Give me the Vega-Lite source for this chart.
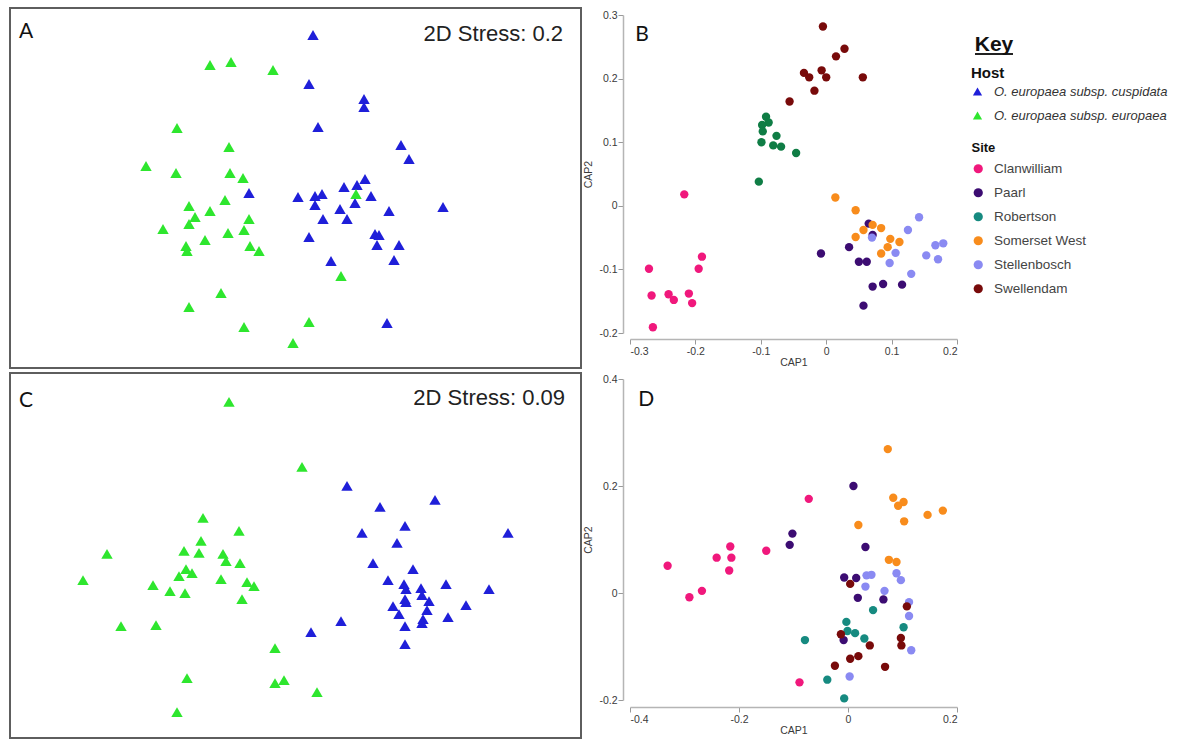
{
"$schema": "https://vega.github.io/schema/vega-lite/v6.json",
"padding": {"left": 9, "top": 7, "right": 0, "bottom": 0},
"autosize": {"type": "pad"},
"background": "white",
"bounds": "flush",
"columns": 3,
"spacing": {"row": 5, "column": 49},
"config": {
  "view": {"stroke": null},
  "font": "Liberation Sans",
  "locale": {"number": {"decimal": ".", "thousands": ",", "grouping": [3], "currency": ["$", ""], "minus": "-"}},
  "axis": {"grid": false, "domainColor": "#b5b5b5", "domainWidth": 1.5, "tickColor": "#999", "tickSize": 5, "labelFontSize": 10.5, "labelColor": "#3a3a3a", "titleFontSize": 10.5, "titleFontWeight": "normal", "titleColor": "#3a3a3a", "labelFont": "Liberation Sans", "titleFont": "Liberation Sans"}
},
"datasets": {
  "nmdsA": [
    {"nmds1":-0.23,"nmds2":-0.025,"host":"cuspidata"},{"nmds1":0.015,"nmds2":-0.045,"host":"cuspidata"},{"nmds1":0.09,"nmds2":0.765,"host":"cuspidata"},{"nmds1":0.07,"nmds2":0.52,"host":"cuspidata"},{"nmds1":0.345,"nmds2":0.445,"host":"cuspidata"},{"nmds1":0.345,"nmds2":0.405,"host":"cuspidata"},{"nmds1":0.115,"nmds2":0.305,"host":"cuspidata"},{"nmds1":0.53,"nmds2":0.215,"host":"cuspidata"},{"nmds1":0.57,"nmds2":0.145,"host":"cuspidata"},{"nmds1":0.35,"nmds2":0.045,"host":"cuspidata"},{"nmds1":0.245,"nmds2":0.005,"host":"cuspidata"},{"nmds1":0.31,"nmds2":0.015,"host":"cuspidata"},{"nmds1":0.1,"nmds2":-0.04,"host":"cuspidata"},{"nmds1":0.135,"nmds2":-0.03,"host":"cuspidata"},{"nmds1":0.38,"nmds2":-0.04,"host":"cuspidata"},{"nmds1":0.1,"nmds2":-0.085,"host":"cuspidata"},{"nmds1":0.225,"nmds2":-0.105,"host":"cuspidata"},{"nmds1":0.3,"nmds2":-0.075,"host":"cuspidata"},{"nmds1":0.47,"nmds2":-0.115,"host":"cuspidata"},{"nmds1":0.74,"nmds2":-0.095,"host":"cuspidata"},{"nmds1":0.14,"nmds2":-0.155,"host":"cuspidata"},{"nmds1":0.26,"nmds2":-0.155,"host":"cuspidata"},{"nmds1":0.4,"nmds2":-0.23,"host":"cuspidata"},{"nmds1":0.42,"nmds2":-0.235,"host":"cuspidata"},{"nmds1":0.41,"nmds2":-0.285,"host":"cuspidata"},{"nmds1":0.52,"nmds2":-0.285,"host":"cuspidata"},{"nmds1":0.07,"nmds2":-0.245,"host":"cuspidata"},{"nmds1":0.18,"nmds2":-0.365,"host":"cuspidata"},{"nmds1":0.495,"nmds2":-0.36,"host":"cuspidata"},{"nmds1":0.46,"nmds2":-0.675,"host":"cuspidata"},
    {"nmds1":-0.425,"nmds2":0.615,"host":"europaea"},{"nmds1":-0.32,"nmds2":0.63,"host":"europaea"},{"nmds1":-0.11,"nmds2":0.59,"host":"europaea"},{"nmds1":-0.59,"nmds2":0.3,"host":"europaea"},{"nmds1":-0.33,"nmds2":0.205,"host":"europaea"},{"nmds1":-0.745,"nmds2":0.11,"host":"europaea"},{"nmds1":-0.595,"nmds2":0.075,"host":"europaea"},{"nmds1":-0.325,"nmds2":0.075,"host":"europaea"},{"nmds1":-0.26,"nmds2":0.05,"host":"europaea"},{"nmds1":-0.35,"nmds2":-0.06,"host":"europaea"},{"nmds1":-0.53,"nmds2":-0.09,"host":"europaea"},{"nmds1":-0.425,"nmds2":-0.115,"host":"europaea"},{"nmds1":-0.5,"nmds2":-0.145,"host":"europaea"},{"nmds1":-0.53,"nmds2":-0.18,"host":"europaea"},{"nmds1":-0.66,"nmds2":-0.205,"host":"europaea"},{"nmds1":-0.23,"nmds2":-0.155,"host":"europaea"},{"nmds1":-0.335,"nmds2":-0.225,"host":"europaea"},{"nmds1":-0.255,"nmds2":-0.21,"host":"europaea"},{"nmds1":-0.45,"nmds2":-0.26,"host":"europaea"},{"nmds1":-0.545,"nmds2":-0.29,"host":"europaea"},{"nmds1":-0.54,"nmds2":-0.315,"host":"europaea"},{"nmds1":-0.225,"nmds2":-0.29,"host":"europaea"},{"nmds1":-0.18,"nmds2":-0.315,"host":"europaea"},{"nmds1":-0.37,"nmds2":-0.525,"host":"europaea"},{"nmds1":-0.53,"nmds2":-0.595,"host":"europaea"},{"nmds1":-0.255,"nmds2":-0.695,"host":"europaea"},{"nmds1":-0.01,"nmds2":-0.775,"host":"europaea"},{"nmds1":0.305,"nmds2":-0.03,"host":"europaea"},{"nmds1":0.23,"nmds2":-0.44,"host":"europaea"},{"nmds1":0.07,"nmds2":-0.67,"host":"europaea"}
  ],
  "nmdsC": [
    {"nmds1":0.26,"nmds2":0.348,"host":"cuspidata"},{"nmds1":0.7,"nmds2":0.278,"host":"cuspidata"},{"nmds1":0.425,"nmds2":0.243,"host":"cuspidata"},{"nmds1":0.55,"nmds2":0.148,"host":"cuspidata"},{"nmds1":0.335,"nmds2":0.113,"host":"cuspidata"},{"nmds1":1.065,"nmds2":0.113,"host":"cuspidata"},{"nmds1":0.51,"nmds2":0.063,"host":"cuspidata"},{"nmds1":0.39,"nmds2":-0.038,"host":"cuspidata"},{"nmds1":0.59,"nmds2":-0.068,"host":"cuspidata"},{"nmds1":0.465,"nmds2":-0.123,"host":"cuspidata"},{"nmds1":0.545,"nmds2":-0.143,"host":"cuspidata"},{"nmds1":0.555,"nmds2":-0.168,"host":"cuspidata"},{"nmds1":0.63,"nmds2":-0.163,"host":"cuspidata"},{"nmds1":0.755,"nmds2":-0.143,"host":"cuspidata"},{"nmds1":0.97,"nmds2":-0.168,"host":"cuspidata"},{"nmds1":0.635,"nmds2":-0.198,"host":"cuspidata"},{"nmds1":0.55,"nmds2":-0.218,"host":"cuspidata"},{"nmds1":0.555,"nmds2":-0.233,"host":"cuspidata"},{"nmds1":0.67,"nmds2":-0.228,"host":"cuspidata"},{"nmds1":0.49,"nmds2":-0.253,"host":"cuspidata"},{"nmds1":0.855,"nmds2":-0.248,"host":"cuspidata"},{"nmds1":0.52,"nmds2":-0.293,"host":"cuspidata"},{"nmds1":0.66,"nmds2":-0.273,"host":"cuspidata"},{"nmds1":0.765,"nmds2":-0.308,"host":"cuspidata"},{"nmds1":0.64,"nmds2":-0.318,"host":"cuspidata"},{"nmds1":0.635,"nmds2":-0.338,"host":"cuspidata"},{"nmds1":0.55,"nmds2":-0.353,"host":"cuspidata"},{"nmds1":0.23,"nmds2":-0.328,"host":"cuspidata"},{"nmds1":0.08,"nmds2":-0.383,"host":"cuspidata"},{"nmds1":0.55,"nmds2":-0.443,"host":"cuspidata"},
    {"nmds1":-0.33,"nmds2":0.768,"host":"europaea"},{"nmds1":0.035,"nmds2":0.443,"host":"europaea"},{"nmds1":-0.46,"nmds2":0.188,"host":"europaea"},{"nmds1":-0.28,"nmds2":0.123,"host":"europaea"},{"nmds1":-0.47,"nmds2":0.073,"host":"europaea"},{"nmds1":-0.555,"nmds2":0.023,"host":"europaea"},{"nmds1":-0.48,"nmds2":0.013,"host":"europaea"},{"nmds1":-0.94,"nmds2":0.008,"host":"europaea"},{"nmds1":-0.36,"nmds2":0.008,"host":"europaea"},{"nmds1":-0.345,"nmds2":-0.028,"host":"europaea"},{"nmds1":-0.275,"nmds2":-0.038,"host":"europaea"},{"nmds1":-0.545,"nmds2":-0.068,"host":"europaea"},{"nmds1":-0.58,"nmds2":-0.103,"host":"europaea"},{"nmds1":-0.515,"nmds2":-0.088,"host":"europaea"},{"nmds1":-1.06,"nmds2":-0.123,"host":"europaea"},{"nmds1":-0.71,"nmds2":-0.148,"host":"europaea"},{"nmds1":-0.37,"nmds2":-0.118,"host":"europaea"},{"nmds1":-0.24,"nmds2":-0.133,"host":"europaea"},{"nmds1":-0.205,"nmds2":-0.153,"host":"europaea"},{"nmds1":-0.625,"nmds2":-0.178,"host":"europaea"},{"nmds1":-0.55,"nmds2":-0.188,"host":"europaea"},{"nmds1":-0.265,"nmds2":-0.218,"host":"europaea"},{"nmds1":-0.87,"nmds2":-0.353,"host":"europaea"},{"nmds1":-0.695,"nmds2":-0.348,"host":"europaea"},{"nmds1":-0.1,"nmds2":-0.463,"host":"europaea"},{"nmds1":-0.54,"nmds2":-0.613,"host":"europaea"},{"nmds1":-0.1,"nmds2":-0.638,"host":"europaea"},{"nmds1":-0.055,"nmds2":-0.623,"host":"europaea"},{"nmds1":-0.59,"nmds2":-0.783,"host":"europaea"},{"nmds1":0.11,"nmds2":-0.683,"host":"europaea"}
  ],
  "capB": [
    {"cap1":-0.217,"cap2":0.018,"site":"Clanwilliam"},{"cap1":-0.19,"cap2":-0.08,"site":"Clanwilliam"},{"cap1":-0.195,"cap2":-0.099,"site":"Clanwilliam"},{"cap1":-0.271,"cap2":-0.099,"site":"Clanwilliam"},{"cap1":-0.267,"cap2":-0.141,"site":"Clanwilliam"},{"cap1":-0.241,"cap2":-0.139,"site":"Clanwilliam"},{"cap1":-0.233,"cap2":-0.148,"site":"Clanwilliam"},{"cap1":-0.21,"cap2":-0.138,"site":"Clanwilliam"},{"cap1":-0.205,"cap2":-0.153,"site":"Clanwilliam"},{"cap1":-0.265,"cap2":-0.191,"site":"Clanwilliam"},
    {"cap1":0.065,"cap2":-0.028,"site":"Paarl"},{"cap1":0.071,"cap2":-0.046,"site":"Paarl"},{"cap1":0.035,"cap2":-0.065,"site":"Paarl"},{"cap1":-0.008,"cap2":-0.075,"site":"Paarl"},{"cap1":0.05,"cap2":-0.088,"site":"Paarl"},{"cap1":0.062,"cap2":-0.088,"site":"Paarl"},{"cap1":0.071,"cap2":-0.127,"site":"Paarl"},{"cap1":0.087,"cap2":-0.123,"site":"Paarl"},{"cap1":0.116,"cap2":-0.124,"site":"Paarl"},{"cap1":0.057,"cap2":-0.157,"site":"Paarl"},
    {"cap1":-0.092,"cap2":0.14,"site":"Robertson"},{"cap1":-0.088,"cap2":0.131,"site":"Robertson"},{"cap1":-0.098,"cap2":0.127,"site":"Robertson"},{"cap1":-0.097,"cap2":0.117,"site":"Robertson"},{"cap1":-0.076,"cap2":0.11,"site":"Robertson"},{"cap1":-0.099,"cap2":0.1,"site":"Robertson"},{"cap1":-0.081,"cap2":0.095,"site":"Robertson"},{"cap1":-0.069,"cap2":0.093,"site":"Robertson"},{"cap1":-0.046,"cap2":0.083,"site":"Robertson"},{"cap1":-0.103,"cap2":0.038,"site":"Robertson"},
    {"cap1":0.014,"cap2":0.013,"site":"Somerset West"},{"cap1":0.045,"cap2":-0.007,"site":"Somerset West"},{"cap1":0.057,"cap2":-0.038,"site":"Somerset West"},{"cap1":0.045,"cap2":-0.049,"site":"Somerset West"},{"cap1":0.071,"cap2":-0.03,"site":"Somerset West"},{"cap1":0.084,"cap2":-0.035,"site":"Somerset West"},{"cap1":0.098,"cap2":-0.052,"site":"Somerset West"},{"cap1":0.112,"cap2":-0.057,"site":"Somerset West"},{"cap1":0.094,"cap2":-0.065,"site":"Somerset West"},{"cap1":0.084,"cap2":-0.075,"site":"Somerset West"},
    {"cap1":0.142,"cap2":-0.018,"site":"Stellenbosch"},{"cap1":0.125,"cap2":-0.038,"site":"Stellenbosch"},{"cap1":0.07,"cap2":-0.05,"site":"Stellenbosch"},{"cap1":0.167,"cap2":-0.062,"site":"Stellenbosch"},{"cap1":0.179,"cap2":-0.059,"site":"Stellenbosch"},{"cap1":0.106,"cap2":-0.074,"site":"Stellenbosch"},{"cap1":0.153,"cap2":-0.078,"site":"Stellenbosch"},{"cap1":0.171,"cap2":-0.084,"site":"Stellenbosch"},{"cap1":0.097,"cap2":-0.09,"site":"Stellenbosch"},{"cap1":0.13,"cap2":-0.107,"site":"Stellenbosch"},
    {"cap1":-0.005,"cap2":0.282,"site":"Swellendam"},{"cap1":0.028,"cap2":0.247,"site":"Swellendam"},{"cap1":0.015,"cap2":0.235,"site":"Swellendam"},{"cap1":-0.034,"cap2":0.209,"site":"Swellendam"},{"cap1":-0.026,"cap2":0.202,"site":"Swellendam"},{"cap1":-0.007,"cap2":0.213,"site":"Swellendam"},{"cap1":0.0,"cap2":0.202,"site":"Swellendam"},{"cap1":0.056,"cap2":0.202,"site":"Swellendam"},{"cap1":-0.018,"cap2":0.181,"site":"Swellendam"},{"cap1":-0.056,"cap2":0.164,"site":"Swellendam"}
  ],
  "capD": [
    {"cap1":-0.331,"cap2":0.051,"site":"Clanwilliam"},{"cap1":-0.291,"cap2":-0.008,"site":"Clanwilliam"},{"cap1":-0.268,"cap2":0.004,"site":"Clanwilliam"},{"cap1":-0.241,"cap2":0.066,"site":"Clanwilliam"},{"cap1":-0.216,"cap2":0.087,"site":"Clanwilliam"},{"cap1":-0.214,"cap2":0.066,"site":"Clanwilliam"},{"cap1":-0.218,"cap2":0.042,"site":"Clanwilliam"},{"cap1":-0.15,"cap2":0.079,"site":"Clanwilliam"},{"cap1":-0.072,"cap2":0.176,"site":"Clanwilliam"},{"cap1":-0.089,"cap2":-0.167,"site":"Clanwilliam"},
    {"cap1":-0.102,"cap2":0.111,"site":"Paarl"},{"cap1":-0.107,"cap2":0.09,"site":"Paarl"},{"cap1":0.01,"cap2":0.2,"site":"Paarl"},{"cap1":0.032,"cap2":0.086,"site":"Paarl"},{"cap1":-0.007,"cap2":0.029,"site":"Paarl"},{"cap1":0.015,"cap2":0.028,"site":"Paarl"},{"cap1":0.018,"cap2":-0.009,"site":"Paarl"},{"cap1":0.065,"cap2":-0.012,"site":"Paarl"},{"cap1":-0.008,"cap2":-0.088,"site":"Paarl"},
    {"cap1":0.073,"cap2":0.269,"site":"Somerset West"},{"cap1":0.083,"cap2":0.178,"site":"Somerset West"},{"cap1":0.102,"cap2":0.17,"site":"Somerset West"},{"cap1":0.092,"cap2":0.163,"site":"Somerset West"},{"cap1":0.146,"cap2":0.146,"site":"Somerset West"},{"cap1":0.174,"cap2":0.154,"site":"Somerset West"},{"cap1":0.103,"cap2":0.134,"site":"Somerset West"},{"cap1":0.019,"cap2":0.127,"site":"Somerset West"},{"cap1":0.075,"cap2":0.062,"site":"Somerset West"},{"cap1":0.089,"cap2":0.058,"site":"Somerset West"},
    {"cap1":0.034,"cap2":0.033,"site":"Stellenbosch"},{"cap1":0.043,"cap2":0.034,"site":"Stellenbosch"},{"cap1":0.032,"cap2":0.012,"site":"Stellenbosch"},{"cap1":0.089,"cap2":0.037,"site":"Stellenbosch"},{"cap1":0.097,"cap2":0.024,"site":"Stellenbosch"},{"cap1":0.067,"cap2":0.004,"site":"Stellenbosch"},{"cap1":0.112,"cap2":-0.017,"site":"Stellenbosch"},{"cap1":0.112,"cap2":-0.043,"site":"Stellenbosch"},{"cap1":0.116,"cap2":-0.107,"site":"Stellenbosch"},{"cap1":0.003,"cap2":-0.156,"site":"Stellenbosch"},
    {"cap1":0.046,"cap2":-0.032,"site":"Robertson"},{"cap1":-0.003,"cap2":-0.054,"site":"Robertson"},{"cap1":-0.001,"cap2":-0.071,"site":"Robertson"},{"cap1":0.013,"cap2":-0.075,"site":"Robertson"},{"cap1":0.03,"cap2":-0.085,"site":"Robertson"},{"cap1":-0.079,"cap2":-0.088,"site":"Robertson"},{"cap1":0.102,"cap2":-0.064,"site":"Robertson"},{"cap1":-0.038,"cap2":-0.162,"site":"Robertson"},{"cap1":-0.007,"cap2":-0.197,"site":"Robertson"},
    {"cap1":0.004,"cap2":0.017,"site":"Swellendam"},{"cap1":0.108,"cap2":-0.025,"site":"Swellendam"},{"cap1":-0.013,"cap2":-0.077,"site":"Swellendam"},{"cap1":0.04,"cap2":-0.098,"site":"Swellendam"},{"cap1":0.097,"cap2":-0.084,"site":"Swellendam"},{"cap1":0.098,"cap2":-0.098,"site":"Swellendam"},{"cap1":0.004,"cap2":-0.123,"site":"Swellendam"},{"cap1":0.019,"cap2":-0.118,"site":"Swellendam"},{"cap1":-0.024,"cap2":-0.136,"site":"Swellendam"},{"cap1":0.068,"cap2":-0.138,"site":"Swellendam"}
  ]
},
"resolve": {"scale": {"color": "independent", "x": "independent", "y": "independent"}},
"concat": [
  {
    "width": 571, "height": 360,
    "view": {"stroke": "#5e5e5e", "strokeWidth": 2},
    "layer": [
      {
        "data": {"name": "nmdsA"},
        "mark": {"type": "point", "shape": "triangle-up", "filled": true, "size": 130, "opacity": 1},
        "encoding": {
          "x": {"field": "nmds1", "type": "quantitative", "scale": {"domain": [-1.425, 1.43], "nice": false, "zero": false}, "axis": null},
          "y": {"field": "nmds2", "type": "quantitative", "scale": {"domain": [-0.9, 0.9], "nice": false, "zero": false}, "axis": null},
          "color": {"field": "host", "type": "nominal", "scale": {"domain": ["cuspidata", "europaea"], "range": ["#1f1fd9", "#2ee62e"]},
            "legend": {"orient": "none", "legendX": 961, "legendY": 58, "title": "Host", "titleFontSize": 15, "titleFontWeight": "bold", "titleColor": "#111", "titleFont": "Liberation Sans", "titlePadding": 4, "labelFont": "Liberation Sans", "labelFontSize": 13, "labelFontStyle": "italic", "labelColor": "#333", "labelOffset": 10, "labelLimit": 300, "symbolType": "triangle-up", "symbolSize": 85, "rowPadding": 10, "padding": 0, "labelExpr": "'O. europaea subsp. ' + datum.label"}}
        }
      },
      {
        "data": {"values": [{"nmds1": -1.38, "nmds2": 0.78, "label": "A"}]},
        "mark": {"type": "text", "align": "left", "baseline": "middle", "fontSize": 21, "font": "Lato", "color": "#111"},
        "encoding": {"x": {"field": "nmds1", "type": "quantitative", "axis": null}, "y": {"field": "nmds2", "type": "quantitative", "axis": null}, "text": {"field": "label"}}
      },
      {
        "data": {"values": [{"nmds1": 1.34, "nmds2": 0.7725, "label": "2D Stress: 0.2"}]},
        "mark": {"type": "text", "align": "right", "baseline": "middle", "fontSize": 22, "font": "Liberation Sans", "color": "#222"},
        "encoding": {"x": {"field": "nmds1", "type": "quantitative", "axis": null}, "y": {"field": "nmds2", "type": "quantitative", "axis": null}, "text": {"field": "label"}}
      }
    ]
  },
  {
    "width": 327, "height": 325,
    "layer": [
      {
        "data": {"name": "capB"},
        "mark": {"type": "circle", "size": 70, "opacity": 1},
        "encoding": {
          "x": {"field": "cap1", "type": "quantitative", "scale": {"domain": [-0.3, 0.2], "nice": false, "zero": false},
            "axis": {"title": "CAP1", "values": [-0.3, -0.2, -0.1, 0, 0.1, 0.2], "format": ".1~f", "offset": 6, "labelPadding": 2, "titlePadding": 1}},
          "y": {"field": "cap2", "type": "quantitative", "scale": {"domain": [-0.2, 0.3], "nice": false, "zero": false, "range": [325, 7]},
            "axis": {"title": "CAP2", "values": [-0.2, -0.1, 0, 0.1, 0.2, 0.3], "format": ".1~f", "offset": 7, "labelPadding": 1, "titlePadding": 5}},
          "color": {"field": "site", "type": "nominal", "scale": {"domain": ["Clanwilliam", "Paarl", "Robertson", "Somerset West", "Stellenbosch", "Swellendam"], "range": ["#f0187c", "#3c0c72", "#0f7d45", "#f88c1c", "#8a8af2", "#780a0a"]}, "legend": null}
        }
      },
      {
        "data": {"values": [{"cap1": -0.292, "cap2": 0.268, "label": "B"}]},
        "mark": {"type": "text", "align": "left", "baseline": "middle", "fontSize": 21, "font": "Lato", "color": "#111"},
        "encoding": {"x": {"field": "cap1", "type": "quantitative"}, "y": {"field": "cap2", "type": "quantitative"}, "text": {"field": "label"}}
      }
    ]
  },
  {
    "width": 38, "height": 46,
    "layer": [
      {
        "data": {"values": [{"kx": 0, "kx2": 1, "ky": 0}]},
        "mark": {"type": "rule", "color": "#222", "strokeWidth": 2},
        "encoding": {
          "x": {"field": "kx", "type": "quantitative", "scale": {"domain": [0.816, 1.816], "nice": false, "zero": false}, "axis": null},
          "x2": {"field": "kx2"},
          "y": {"field": "ky", "type": "quantitative", "scale": {"domain": [0, 1], "nice": false, "zero": false}, "axis": null}
        }
      },
      {
        "data": {"values": [{"kx": 0.5, "ky": 0.185, "label": "Key"}]},
        "mark": {"type": "text", "align": "center", "baseline": "middle", "fontSize": 21, "fontWeight": "bold", "font": "Liberation Sans", "color": "#111"},
        "encoding": {
          "x": {"field": "kx", "type": "quantitative", "axis": null},
          "y": {"field": "ky", "type": "quantitative", "axis": null},
          "text": {"field": "label"}
        }
      }
    ]
  },
  {
    "width": 571, "height": 365,
    "view": {"stroke": "#5e5e5e", "strokeWidth": 2},
    "layer": [
      {
        "data": {"name": "nmdsC"},
        "mark": {"type": "point", "shape": "triangle-up", "filled": true, "size": 130, "opacity": 1},
        "encoding": {
          "x": {"field": "nmds1", "type": "quantitative", "scale": {"domain": [-1.425, 1.43], "nice": false, "zero": false}, "axis": null},
          "y": {"field": "nmds2", "type": "quantitative", "scale": {"domain": [-0.9125, 0.9125], "nice": false, "zero": false}, "axis": null},
          "color": {"field": "host", "type": "nominal", "scale": {"domain": ["cuspidata", "europaea"], "range": ["#1f1fd9", "#2ee62e"]}, "legend": null}
        }
      },
      {
        "data": {"values": [{"nmds1": -1.38, "nmds2": 0.775, "label": "C"}]},
        "mark": {"type": "text", "align": "left", "baseline": "middle", "fontSize": 21, "font": "Lato", "color": "#111"},
        "encoding": {"x": {"field": "nmds1", "type": "quantitative", "axis": null}, "y": {"field": "nmds2", "type": "quantitative", "axis": null}, "text": {"field": "label"}}
      },
      {
        "data": {"values": [{"nmds1": 1.35, "nmds2": 0.79, "label": "2D Stress: 0.09"}]},
        "mark": {"type": "text", "align": "right", "baseline": "middle", "fontSize": 22, "font": "Liberation Sans", "color": "#222"},
        "encoding": {"x": {"field": "nmds1", "type": "quantitative", "axis": null}, "y": {"field": "nmds2", "type": "quantitative", "axis": null}, "text": {"field": "label"}}
      }
    ]
  },
  {
    "width": 327, "height": 327,
    "layer": [
      {
        "data": {"name": "capD"},
        "mark": {"type": "circle", "size": 70, "opacity": 1},
        "encoding": {
          "x": {"field": "cap1", "type": "quantitative", "scale": {"domain": [-0.4, 0.2], "nice": false, "zero": false},
            "axis": {"title": "CAP1", "values": [-0.4, -0.2, 0, 0.2], "format": ".1~f", "offset": 7, "labelPadding": 2, "titlePadding": 1}},
          "y": {"field": "cap2", "type": "quantitative", "scale": {"domain": [-0.2, 0.4], "nice": false, "zero": false, "range": [327, 6]},
            "axis": {"title": "CAP2", "values": [-0.2, 0, 0.2, 0.4], "format": ".1~f", "offset": 7, "labelPadding": 1, "titlePadding": 5}},
          "color": {"field": "site", "type": "nominal", "scale": {"domain": ["Clanwilliam", "Paarl", "Robertson", "Somerset West", "Stellenbosch", "Swellendam"], "range": ["#f0187c", "#3c0c72", "#168a80", "#f88c1c", "#8a8af2", "#780a0a"]},
            "legend": {"orient": "none", "legendX": 341.5, "legendY": -231, "title": "Site", "titleFontSize": 13, "titleFontWeight": "bold", "titleColor": "#111", "titleFont": "Liberation Sans", "titlePadding": 7, "labelFont": "Liberation Sans", "labelFontSize": 13.5, "labelColor": "#444", "labelOffset": 9, "symbolType": "circle", "symbolSize": 85, "symbolStrokeWidth": 0, "rowPadding": 9, "padding": 0}}
        }
      },
      {
        "data": {"values": [{"cap1": -0.385, "cap2": 0.36, "label": "D"}]},
        "mark": {"type": "text", "align": "left", "baseline": "middle", "fontSize": 21, "font": "Lato", "color": "#111"},
        "encoding": {"x": {"field": "cap1", "type": "quantitative"}, "y": {"field": "cap2", "type": "quantitative"}, "text": {"field": "label"}}
      }
    ]
  }
]
}
